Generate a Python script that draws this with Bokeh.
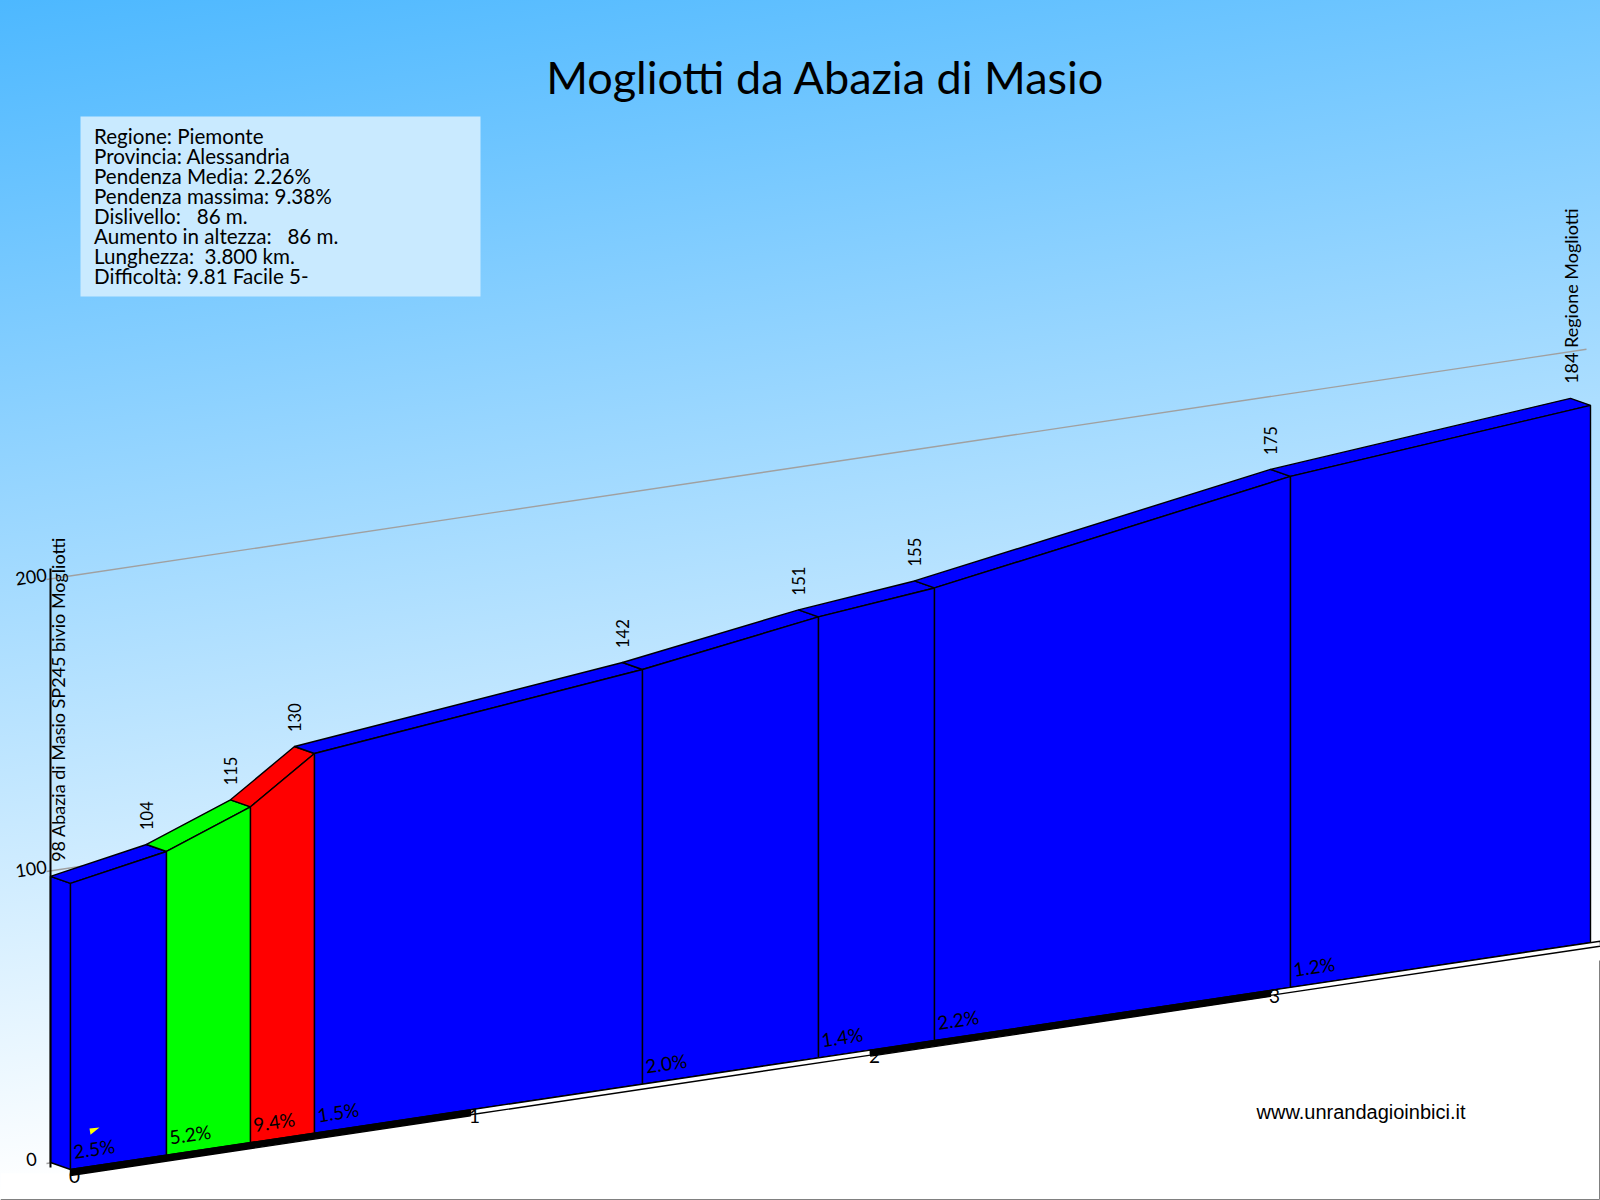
from math import atan, radians
from bokeh.plotting import figure
from bokeh.models import Range1d
from bokeh.core.properties import value
from bokeh.embed import file_html
from bokeh.resources import INLINE

# ---- data ----
title_text = "Mogliotti da Abazia di Masio"
km = [0, 0.24, 0.45, 0.61, 1.43, 1.87, 2.16, 3.05, 3.8]
elev = [98, 104, 115, 130, 142, 151, 155, 175, 184]
grades = [2.5, 5.2, 9.4, 1.5, 2.0, 1.4, 2.2, 1.2]
seg_colors = ["#0000FF", "#00FF00", "#FF0000", "#0000FF", "#0000FF", "#0000FF", "#0000FF", "#0000FF"]
elev_labels = ["98 Abazia di Masio SP245 bivio Mogliotti", "104", "115", "130", "142", "151", "155", "175",
               "184 Regione Mogliotti"]
elev_label_shift = [7, 0, 0, 0, 0, 0, 0, 0, 0]
km_ticks = [0, 1, 2, 3]
height_ticks = [0, 100, 200]
height_tick_shift = [-10, 0, 0]
info_lines = ["Regione: Piemonte", "Provincia: Alessandria", "Pendenza Media: 2.26%", "Pendenza massima: 9.38%",
              "Dislivello:\u00a0\u00a0\u00a086 m.", "Aumento in altezza:\u00a0\u00a0\u00a086 m.",
              "Lunghezza:\u00a0\u00a03.800 km.", "Difficoltà: 9.81 Facile 5-"]
site_text = "www.unrandagioinbici.it"
km_end = 3.825
marker_km = [0.0475, 0.0725, 0.05]
marker_elev = [13.1, 12.9, 10.9]

# ---- oblique projection (km, metres, depth 0 front / 1 back) to page pixels ----
X0, Y0 = 70, 1169
PX_KM, DROP_KM, PX_M = 400, 59.7, 2.92
DX, DY = -20, -7
FONT = value("Lato")
SLOPE = atan(DROP_KM / PX_KM)
EDGE = 1.4


def px(d, depth=0):
    return X0 + PX_KM * d + DX * depth


def py(d, h, depth=0):
    return Y0 - DROP_KM * d - PX_M * h + DY * depth


p = figure(width=1600, height=1200, output_backend="svg", toolbar_location=None,
           x_range=Range1d(0, 1600), y_range=Range1d(1200, 0), min_border=0,
           background_fill_alpha=0, border_fill_alpha=0, outline_line_color=None)
p.axis.visible = False
p.grid.visible = False
p.styles = {"position": "absolute", "left": "0", "top": "0",
            "background": "linear-gradient(171.5deg, #4DB8FF 0%, #FFFFFF 83%, #FFFFFF 100%)"}

# height grid lines on the back wall
for h in height_ticks:
    p.line([px(0, 1) - 4, px(3.84, 1)], [py(0, h, 1) + 1, py(3.84, h, 1)], line_color="#A0A0A0", line_width=1.3)

# side face
p.patch([px(0, 1), px(0), px(0), px(0, 1)], [py(0, 0, 1), py(0, 0), py(0, elev[0]), py(0, elev[0], 1)],
        fill_color="#0000FF", line_color="#000000", line_width=EDGE)

# top and front faces
tx, ty, fx, fy = [], [], [], []
for i in range(len(grades)):
    a, b = km[i], km[i + 1]
    ha, hb = elev[i], elev[i + 1]
    tx.append([px(a, 1), px(b, 1), px(b), px(a)])
    ty.append([py(a, ha, 1), py(b, hb, 1), py(b, hb), py(a, ha)])
    fx.append([px(a), px(b), px(b), px(a)])
    fy.append([py(a, ha), py(b, hb), py(b, 0), py(a, 0)])
p.patches(tx, ty, fill_color=seg_colors, line_color="#000000", line_width=EDGE)
p.patches(fx, fy, fill_color=seg_colors, line_color="#000000", line_width=EDGE)

# axis line
p.line([px(0, 1), px(0, 1)], [568, py(0, 0, 1) + 5], line_color="#000000", line_width=2)

# white ground
p.patch([px(0), px(km_end), 1600, 0, 0], [py(0, 0) + 4, py(km_end, 0) + 4, 1200, 1200, py(0, 0) + 4],
        fill_color="#FFFFFF", line_color=None)

# kilometre band
bx, by, bc = [], [], []
edges = km_ticks + [km_end]
for i in range(len(km_ticks)):
    a, b = edges[i], edges[i + 1]
    depth = 6 if i % 2 == 0 else 5
    bx.append([px(a), px(b), px(b), px(a)])
    by.append([py(a, 0), py(b, 0), py(b, 0) + depth, py(a, 0) + depth])
    bc.append("#000000" if i % 2 == 0 else "#FFFFFF")
p.patches(bx, by, fill_color=bc, line_color="#000000", line_width=EDGE)

# little yellow flag
p.patch([px(d) for d in marker_km], [py(d, h) for d, h in zip(marker_km, marker_elev)],
        fill_color="#FFFF00", line_color=None)

# information box
p.quad(left=[80], right=[480], top=[116], bottom=[296], fill_color="#C9EAFF", line_color=None)
p.text(x=[93.5] * len(info_lines), y=[135 + 20 * i for i in range(len(info_lines))], text=info_lines,
       text_font=FONT, text_font_size="20.6px", text_color="#000000", text_baseline="alphabetic", text_align="left")

# title, site
p.text(x=[825], y=[76], text=[title_text], text_font=FONT, text_font_size="45px", text_color="#000000",
       text_align="center", text_baseline="alphabetic")
p.text(x=[1256], y=[1111], text=[site_text], text_font=value("Liberation Sans"), text_font_size="20px",
       text_color="#000000", text_align="left", text_baseline="alphabetic")

# elevation labels: place names are set larger than the plain numbers
is_name = [" " in t for t in elev_labels]
for names, size in ((True, "18px"), (False, "16.5px")):
    keep = [i for i, n in enumerate(is_name) if n == names]
    p.text(x=[px(km[i], 1) + elev_label_shift[i] for i in keep],
           y=[py(km[i], elev[i], 1) - 14.5 for i in keep],
           text=[elev_labels[i] for i in keep], angle=radians(90), text_font=FONT, text_font_size=size,
           text_color="#000000", text_align="left", text_baseline="middle")

# grade labels
p.text(x=[px(d) + 3 for d in km[:-1]], y=[py(d, 0) - 18 for d in km[:-1]],
       text=[f"{g:.1f}%" for g in grades], angle=SLOPE, text_font=FONT, text_font_size="19px",
       text_color="#000000", text_align="left", text_baseline="alphabetic")

# kilometre ticks
p.text(x=[px(d) + 4 for d in km_ticks], y=[py(d, 0) + 6 for d in km_ticks], text=[str(k) for k in km_ticks],
       text_font=FONT, text_font_size="19px", text_color="#000000", text_align="center", text_baseline="middle")

# height ticks
p.text(x=[px(0, 1) - 4 + s for s in height_tick_shift], y=[py(0, h, 1) - 4 for h in height_ticks],
       text=[str(h) for h in height_ticks],
       angle=SLOPE, text_font=FONT, text_font_size="18px", text_color="#000000", text_align="right",
       text_baseline="middle")

# thin image border
p.line([1599, 1599], [960, 1199], line_color="#808080", line_width=1)
p.line([0, 1599], [1199, 1199], line_color="#808080", line_width=1)

open("out.html", "w").write(file_html(p, INLINE))
